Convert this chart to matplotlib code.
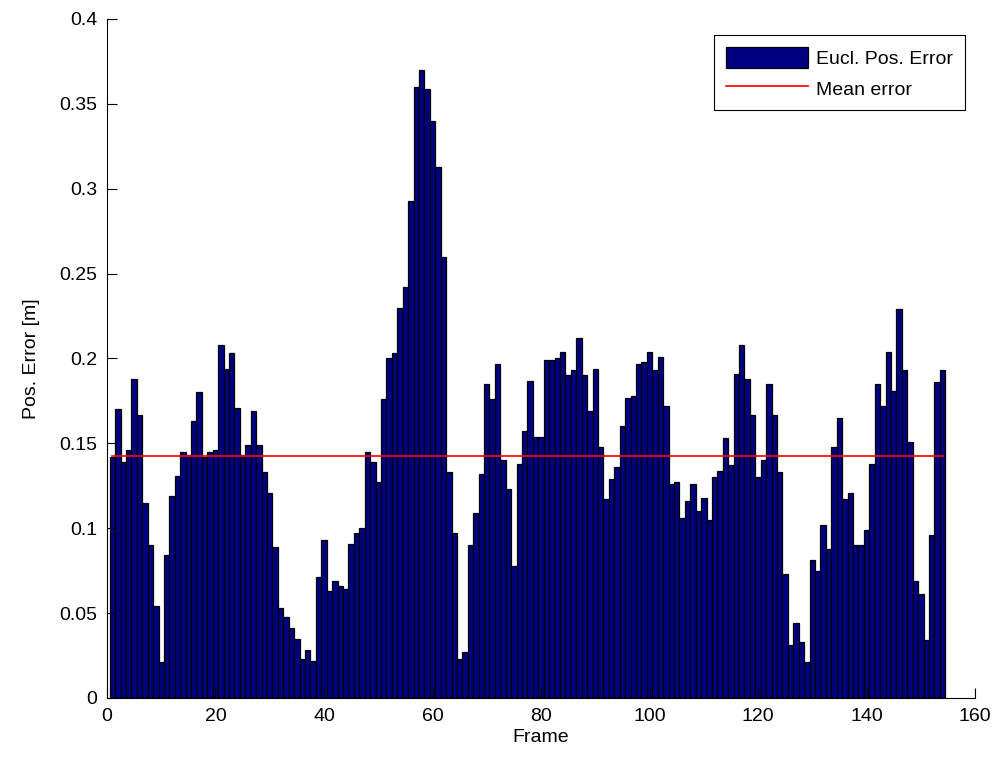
import matplotlib.pyplot as plt
import numpy as np

plt.rcParams["font.family"] = ["Liberation Sans", "DejaVu Sans"]

# Euclidean position error per frame
FRAME = np.arange(1, 155)
POS_ERROR = np.array([
    0.142, 0.170, 0.139, 0.146, 0.188, 0.167, 0.115, 0.090, 0.054, 0.021,
    0.084, 0.119, 0.131, 0.145, 0.143, 0.163, 0.180, 0.142, 0.145, 0.146,
    0.208, 0.194, 0.203, 0.171, 0.143, 0.149, 0.169, 0.149, 0.133, 0.121,
    0.089, 0.053, 0.048, 0.041, 0.035, 0.023, 0.028, 0.022, 0.071, 0.093,
    0.063, 0.069, 0.066, 0.064, 0.091, 0.097, 0.100, 0.145, 0.139, 0.127,
    0.176, 0.200, 0.203, 0.230, 0.242, 0.293, 0.360, 0.370, 0.359, 0.340,
    0.313, 0.260, 0.133, 0.097, 0.023, 0.027, 0.090, 0.109, 0.132, 0.185,
    0.176, 0.197, 0.140, 0.123, 0.078, 0.138, 0.157, 0.187, 0.154, 0.154,
    0.199, 0.199, 0.200, 0.204, 0.190, 0.193, 0.212, 0.190, 0.169, 0.194,
    0.148, 0.117, 0.129, 0.136, 0.160, 0.177, 0.178, 0.197, 0.198, 0.204,
    0.193, 0.201, 0.172, 0.126, 0.127, 0.106, 0.116, 0.126, 0.110, 0.118,
    0.105, 0.130, 0.134, 0.153, 0.137, 0.191, 0.208, 0.188, 0.167, 0.130,
    0.140, 0.185, 0.167, 0.133, 0.073, 0.031, 0.044, 0.033, 0.021, 0.081,
    0.075, 0.102, 0.088, 0.148, 0.165, 0.117, 0.121, 0.090, 0.090, 0.099,
    0.138, 0.185, 0.172, 0.204, 0.181, 0.229, 0.193, 0.151, 0.069, 0.061,
    0.034, 0.096, 0.186, 0.193,
])
MEAN_ERROR = 0.1425

X_TICKS = [0, 20, 40, 60, 80, 100, 120, 140, 160]
Y_TICKS = [0, 0.05, 0.1, 0.15, 0.2, 0.25, 0.3, 0.35, 0.4]
Y_TICK_LABELS = ["0", "0.05", "0.1", "0.15", "0.2", "0.25", "0.3", "0.35", "0.4"]

fig = plt.figure(figsize=(9.97, 7.66), dpi=100)
ax = fig.add_axes([0.1073, 0.0888, 0.8707, 0.8864])

bars = ax.bar(FRAME, POS_ERROR, width=1.0, color="#000080",
              edgecolor="black", linewidth=0.9, label="Eucl. Pos. Error")
(line,) = ax.plot([FRAME[0], FRAME[-1]], [MEAN_ERROR, MEAN_ERROR],
                  color="red", linewidth=1.2, label="Mean error")

ax.set_xlim(0, 160)
ax.set_ylim(0, 0.4)
ax.set_xticks(X_TICKS)
ax.set_yticks(Y_TICKS)
ax.set_yticklabels(Y_TICK_LABELS)
ax.tick_params(direction="in", length=7, labelsize=14, width=0.8, pad=7)
ax.spines["top"].set_visible(False)
ax.spines["right"].set_visible(False)
ax.set_xlabel("Frame", fontsize=14, labelpad=3)
ax.set_ylabel("Pos. Error [m]", fontsize=14, labelpad=14)

leg = ax.legend([bars, line], ["Eucl. Pos. Error", "Mean error"],
                loc="upper right", bbox_to_anchor=(0.9885, 0.9764),
                borderaxespad=0, fontsize=14, fancybox=False,
                edgecolor="black", framealpha=1, handlelength=4.2,
                handleheight=1.3, handletextpad=0.45, labelspacing=0.5,
                borderpad=0.6)
leg.get_frame().set_linewidth(0.8)

fig.savefig("out.png", dpi=100, facecolor="white")
